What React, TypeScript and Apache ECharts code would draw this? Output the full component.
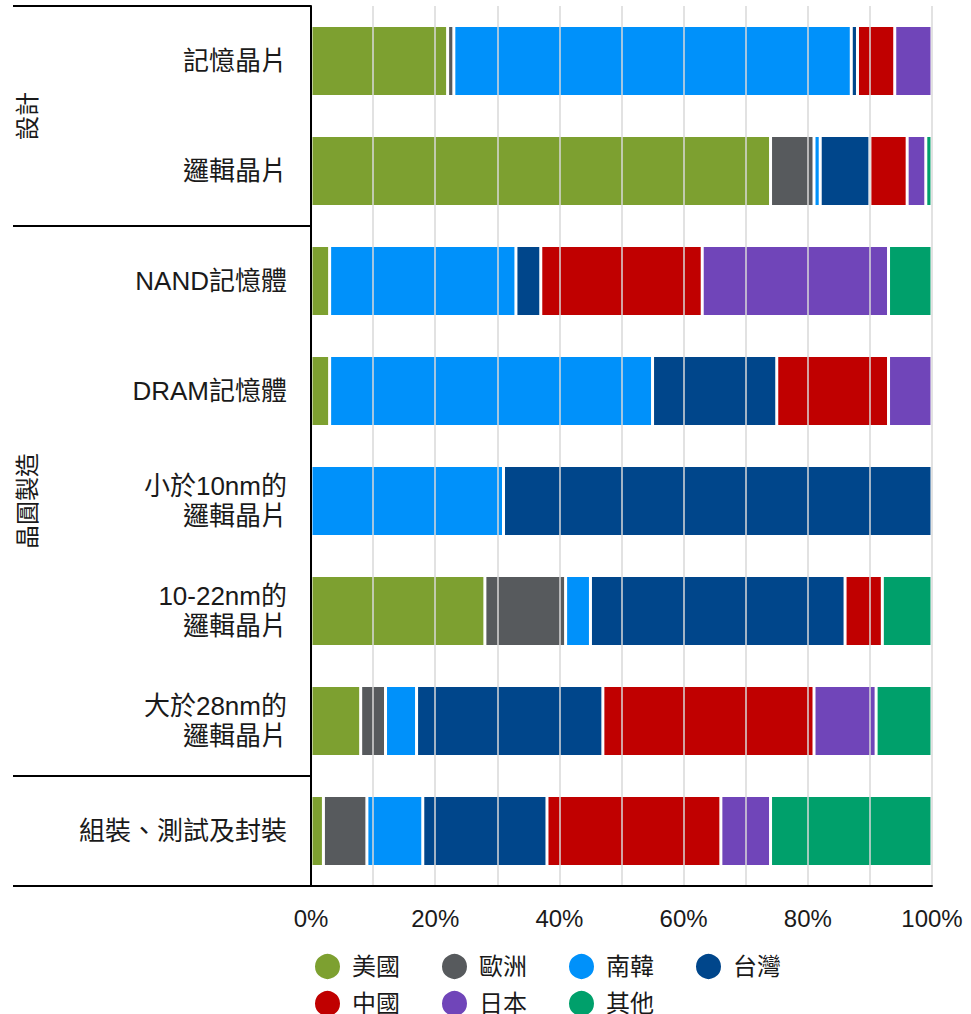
import React, { useEffect, useRef } from "react";
import * as echarts from "echarts";

const categories = [
  "記憶晶片",
  "邏輯晶片",
  "NAND記憶體",
  "DRAM記憶體",
  "小於10nm的\n邏輯晶片",
  "10-22nm的\n邏輯晶片",
  "大於28nm的\n邏輯晶片",
  "組裝、測試及封裝",
];

const seriesNames = ["美國", "歐洲", "南韓", "台灣", "中國", "日本", "其他"];
const usa = [22, 74, 3, 3, 0, 28, 8, 2];
const europe = [1, 7, 0, 0, 0, 13, 4, 7];
const korea = [64, 1, 30, 52, 31, 4, 5, 9];
const taiwan = [1, 8, 4, 20, 69, 41, 30, 20];
const china = [6, 6, 26, 18, 0, 6, 34, 28];
const japan = [6, 3, 30, 7, 0, 0, 10, 8];
const others = [0, 1, 7, 0, 0, 8, 9, 26];
const seriesValues = [usa, europe, korea, taiwan, china, japan, others];
const colors = ["#7da030", "#575a5d", "#0091fa", "#00468b", "#c00000", "#7045b9", "#00a06b"];

const groups = [
  { name: "設計", from: 0, to: 2 },
  { name: "晶圓製造", from: 2, to: 7 },
  { name: "", from: 7, to: 8 },
];

const xTicks = [0, 20, 40, 60, 80, 100];

const FONT = '"Liberation Sans", "Noto Sans CJK TC", sans-serif';

export default function App() {
  const ref = useRef<HTMLDivElement>(null);
  useEffect(() => {
    if (!ref.current) return;
    const chart = echarts.init(ref.current, undefined, { renderer: "svg" });
    const gridLeft = 311;
    const gridTop = 6;
    const gridHeight = 880;
    const gridRight = 39;
    const band = gridHeight / categories.length;
    const lineLeft = 13;

    const graphics: any[] = [];
    const boundaries = new Set<number>();
    groups.forEach((g) => {
      boundaries.add(g.from);
      boundaries.add(g.to);
    });
    boundaries.forEach((b) => {
      const y = gridTop + b * band;
      graphics.push({
        type: "line",
        shape: { x1: lineLeft, y1: y, x2: gridLeft, y2: y },
        style: { stroke: "#000", lineWidth: 2 },
        z: 20,
      });
    });
    groups.forEach((g) => {
      if (!g.name) return;
      const yc = gridTop + ((g.from + g.to) / 2) * band;
      graphics.push({
        type: "text",
        x: 27,
        y: yc,
        rotation: Math.PI / 2,
        style: {
          text: g.name,
          fontSize: 24,
          fontFamily: FONT,
          fill: "#1a1a1a",
          textAlign: "center",
          textVerticalAlign: "middle",
        },
        z: 20,
      });
    });

    const legendCommon = {
      icon: "circle",
      itemWidth: 27,
      itemHeight: 27,
      itemGap: 40,
      left: 313,
      padding: 0,
      orient: "horizontal",
      textStyle: { fontSize: 24, fontFamily: FONT, color: "#1a1a1a", padding: [0, 0, 0, 6] },
    };

    chart.setOption({
      animation: false,
      color: colors,
      grid: { left: gridLeft, right: gridRight, top: gridTop, height: gridHeight, containLabel: false },
      legend: [
        { ...legendCommon, top: 952, data: seriesNames.slice(0, 4) },
        { ...legendCommon, top: 989, data: seriesNames.slice(4) },
      ],
      xAxis: {
        type: "value",
        min: 0,
        max: 100,
        interval: 20,
        axisLine: { show: true, lineStyle: { color: "#000", width: 2 } },
        axisTick: { show: false },
        minorTick: { show: false, splitNumber: 2 },
        splitLine: { show: true, lineStyle: { color: "#d9d9d9", width: 1.5 } },
        minorSplitLine: { show: true, lineStyle: { color: "#d9d9d9", width: 1.5 } },
        axisLabel: {
          margin: 20,
          fontSize: 24,
          fontFamily: FONT,
          color: "#1a1a1a",
          formatter: (v: number) => (xTicks.includes(v) ? v + "%" : ""),
        },
        z: 10,
      },
      yAxis: {
        type: "category",
        inverse: true,
        data: categories,
        axisLine: { show: true, lineStyle: { color: "#000", width: 2 } },
        axisTick: { show: false },
        axisLabel: {
          margin: 24,
          fontSize: 26,
          lineHeight: 30,
          fontFamily: FONT,
          color: "#1a1a1a",
          align: "right",
        },
        z: 10,
      },
      series: seriesNames.map((name, i) => ({
        name,
        type: "bar",
        stack: "total",
        barWidth: 71,
        itemStyle: { color: colors[i], borderColor: "#fff", borderWidth: 1.5 },
        data: seriesValues[i].map((v) => (v === 0 ? "-" : v)),
      })),
      graphic: graphics,
    });
    return () => chart.dispose();
  }, []);
  return (
    <div
      ref={ref}
      style={{ position: "fixed", left: 0, top: 0, width: 971, height: 1014, background: "#fff" }}
    />
  );
}
